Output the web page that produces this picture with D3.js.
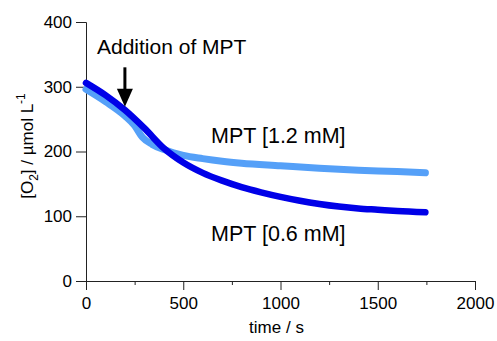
<!DOCTYPE html>
<html>
<head>
<meta charset="utf-8">
<script src="https://cdn.jsdelivr.net/npm/d3@7"></script>
<style>
  body { margin: 0; background: #fff; }
  svg text { font-family: "Liberation Sans", Arial, sans-serif; fill: #000; }
  .axis path, .axis line { stroke: #222; stroke-width: 1; }
  .axis text { font-size: 17px; }
</style>
</head>
<body>
<div id="chart"></div>
<script>
// data
const timeLow = [0, 100, 200, 300, 400, 500, 600, 700, 800, 900, 1000, 1100, 1200, 1300, 1400, 1500, 1600, 1745];
const o2Low = [306, 287, 264, 236, 205, 183, 167, 155, 145, 137, 130, 124, 119, 115, 112, 110, 108, 106]; // MPT 0.6 mM
const timeHigh = [0, 100, 200, 250, 290, 340, 400, 450, 500, 600, 700, 800, 1000, 1200, 1400, 1600, 1745];
const o2High = [296, 277, 255, 240, 222, 211, 203, 198, 194, 189, 185, 182, 178, 174, 171, 169, 167]; // MPT 1.2 mM
const xTicks = [0, 500, 1000, 1500, 2000];
const xMinor = [250, 750, 1250, 1750];
const yTicks = [0, 100, 200, 300, 400];
const arrowTime = 200;
const arrowFrom = 330;
const arrowTo = 269;

const width = 497;
const height = 341;
const margin = { top: 22, right: 22, bottom: 60, left: 86 };

const svg = d3.select('#chart')
  .append('svg')
  .attr('width', width)
  .attr('height', height);

const xScale = d3.scaleLinear().domain([0, 2000]).range([margin.left, width - margin.right]);
const yScale = d3.scaleLinear().domain([0, 400]).range([height - margin.bottom, margin.top]);

/* Axes */
svg.append('g')
  .attr('class', 'axis')
  .attr('transform', `translate(0, ${height - margin.bottom})`)
  .call(d3.axisBottom(xScale).tickValues(xMinor).tickSize(4).tickFormat(''))
  .call(g => g.select('.domain').remove());

svg.append('g')
  .attr('class', 'axis')
  .attr('transform', `translate(0, ${height - margin.bottom})`)
  .call(d3.axisBottom(xScale).tickValues(xTicks).tickSizeOuter(0).tickSize(9).tickPadding(7).tickFormat(d3.format('d')));

svg.append('g')
  .attr('class', 'axis')
  .attr('transform', `translate(${margin.left}, 0)`)
  .call(d3.axisLeft(yScale).tickValues(yTicks).tickSizeOuter(0).tickSize(10).tickPadding(4).tickFormat(d3.format('d')));

svg.append('text')
  .attr('x', xScale(1000) - 4)
  .attr('y', 333)
  .attr('text-anchor', 'middle')
  .style('font-size', '17px')
  .text('time / s');

const yLabel = svg.append('text')
  .attr('transform', 'translate(33, 146) rotate(-90)')
  .attr('text-anchor', 'middle')
  .style('font-size', '17px');
yLabel.append('tspan').text('[O');
yLabel.append('tspan').attr('dy', 5).style('font-size', '12px').text('2');
yLabel.append('tspan').attr('dy', -5).text('] / µmol L');
yLabel.append('tspan').attr('dy', -8).style('font-size', '12px').text('-1');

/* Lines */
const line = d3.line()
  .x(d => xScale(d[0]))
  .y(d => yScale(d[1]))
  .curve(d3.curveMonotoneX);

svg.append('path')
  .attr('d', line(d3.zip(timeHigh, o2High)))
  .attr('fill', 'none')
  .attr('stroke', '#55a0f8')
  .attr('stroke-width', 7)
  .attr('stroke-linecap', 'round');

svg.append('path')
  .attr('d', line(d3.zip(timeLow, o2Low)))
  .attr('fill', 'none')
  .attr('stroke', '#0000e8')
  .attr('stroke-width', 6.5)
  .attr('stroke-linecap', 'round');

/* Annotations */
const ax = xScale(arrowTime);
const ay0 = yScale(arrowFrom);
const ay1 = yScale(arrowTo);
svg.append('line')
  .attr('x1', ax).attr('x2', ax)
  .attr('y1', ay0).attr('y2', ay1 - 14)
  .attr('stroke', '#000')
  .attr('stroke-width', 3);
svg.append('path')
  .attr('d', `M${ax - 8},${ay1 - 18} L${ax + 8},${ay1 - 18} L${ax},${ay1} Z`)
  .attr('fill', '#000');

svg.append('text')
  .attr('x', 97).attr('y', 54)
  .style('font-size', '21px')
  .text('Addition of MPT');

svg.append('text')
  .attr('x', 211).attr('y', 143)
  .style('font-size', '21.5px')
  .text('MPT [1.2 mM]');

svg.append('text')
  .attr('x', 211).attr('y', 241)
  .style('font-size', '21.5px')
  .text('MPT [0.6 mM]');
</script>
</body>
</html>
